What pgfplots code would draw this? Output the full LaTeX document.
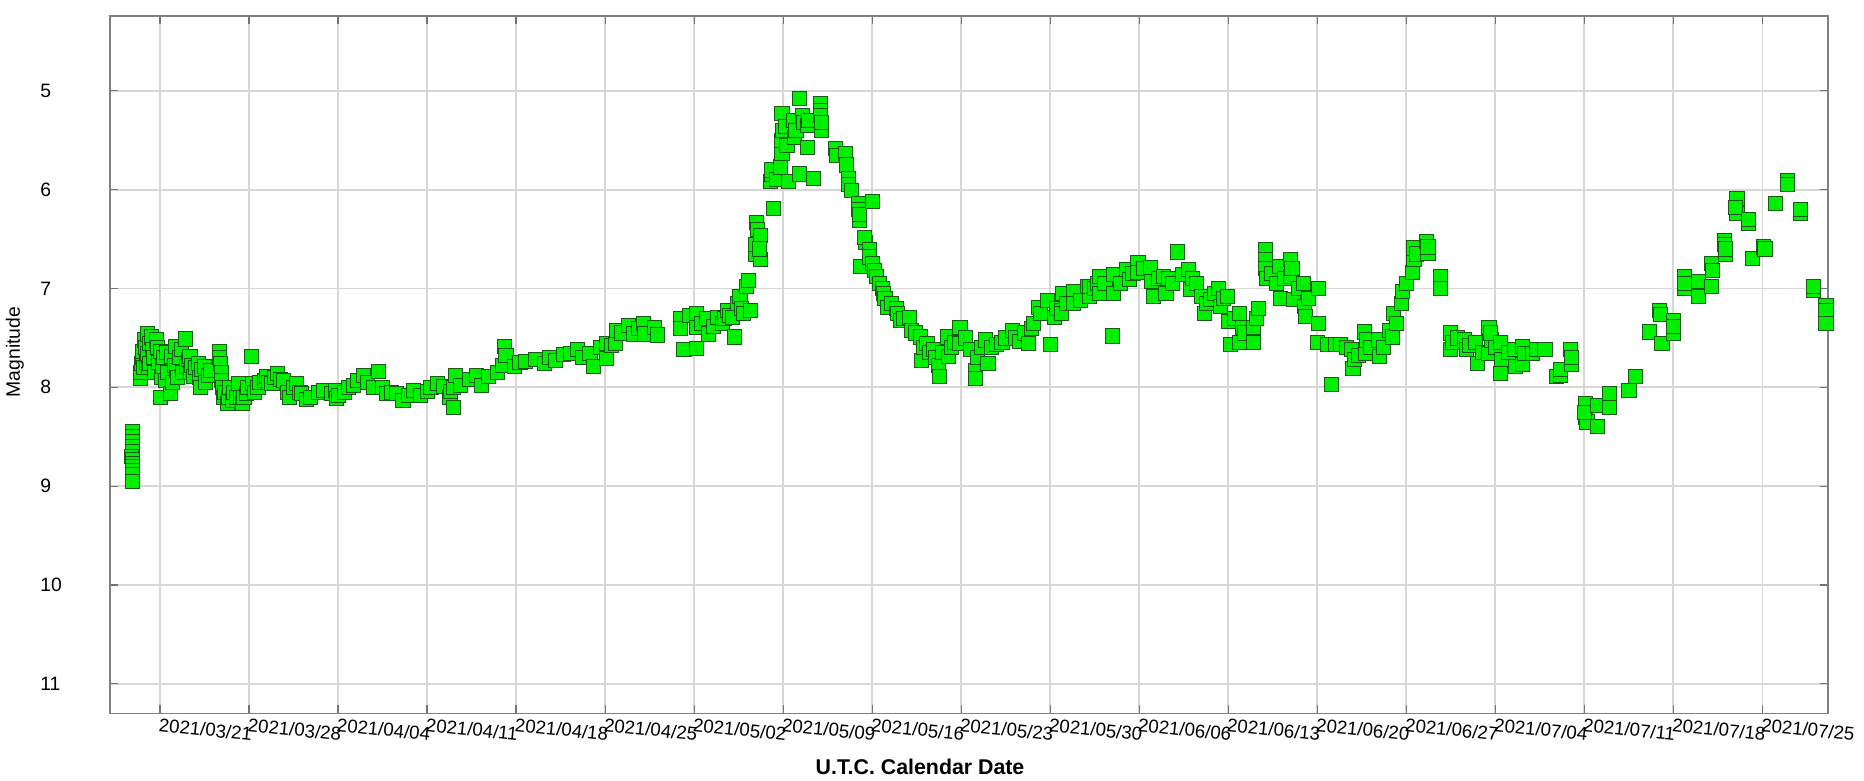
\documentclass[border=0pt]{standalone}
\usepackage{pgfplots}
\pgfplotsset{compat=1.18}
\usepackage{fontspec}
\setmainfont{Liberation Sans}
\definecolor{ptfill}{RGB}{0,240,0}
\definecolor{ptedge}{RGB}{25,90,25}
\definecolor{gridc}{RGB}{215,215,215}
\definecolor{framec}{RGB}{128,128,128}
\begin{document}
\begin{tikzpicture}
\begin{axis}[
  scale only axis, width=1288pt, height=523.2pt,
  xmin=-3.91, xmax=131.14, ymin=4.24, ymax=11.30, y dir=reverse,
  xtick={0,7,...,126},
  xticklabels={2021/03/21,2021/03/28,2021/04/04,2021/04/11,2021/04/18,2021/04/25,2021/05/02,2021/05/09,2021/05/16,2021/05/23,2021/05/30,2021/06/06,2021/06/13,2021/06/20,2021/06/27,2021/07/04,2021/07/11,2021/07/18,2021/07/25},
  ytick={5,6,...,11},
  /pgf/number format/assume math mode=true,
  grid=major, major grid style={gridc, line width=1.3pt},
  axis line style={framec, line width=1.3pt},
  tick align=inside, major tick length=6pt,
  tick style={black!55, line width=0.9pt},
  xticklabel style={font=\fontsize{14}{16}\selectfont, anchor=north west, rotate=-6, inner sep=0pt, yshift=-3pt},
  yticklabel style={font=\fontsize{14.5}{16}\selectfont, anchor=west, inner sep=0pt, xshift=-52.7pt},
  xlabel={U.T.C. Calendar Date},
  xlabel style={font=\fontsize{16}{18}\selectfont\bfseries, at={(axis description cs:0.4715,-0.087)}, anchor=base},
  ylabel={Magnitude},
  ylabel style={font=\fontsize{14.5}{16}\selectfont, at={(axis description cs:-0.0555,0.518)}, anchor=center},
  clip=false,
]
\addplot[only marks, mark=square*, mark size=5.3pt, mark options={fill=ptfill, draw=ptedge, line width=0.6pt}] coordinates {
(-2.2,8.45)(-2.2,8.5)(-2.2,8.55)(-2.2,8.6)(-2.2,8.65)(-2.25,8.7)(-2.2,8.73)(-2.2,8.77)(-2.2,8.8)(-2.2,8.84)(-2.2,8.88)(-2.2,8.95)
(-1.55,7.91)(-1.5,7.85)(-1.45,7.76)(-1.4,7.7)(-1.35,7.64)(-1.3,7.8)(-1.2,7.52)(-1.15,7.6)(-1.1,7.75)(-1.0,7.46)(-0.95,7.66)(-0.9,7.8)(-0.85,7.56)(-0.8,7.76)(-0.7,7.49)(-0.6,7.62)(-0.5,7.7)(-0.4,7.85)(-0.3,7.52)(-0.2,7.6)(-0.1,7.75)(0,7.64)(0.05,8.1)(0.1,7.9)(0.2,7.79)(0.3,7.7)(0.4,7.93)(0.5,7.65)(0.6,7.85)(0.8,8.06)(0.9,7.69)(1.0,7.95)(1.1,7.78)(1.2,7.59)(1.3,7.83)(1.4,7.9)(1.5,7.7)(1.7,7.62)(1.8,7.85)(2.0,7.51)(2.1,7.79)(2.2,7.72)(2.35,7.69)(2.4,7.85)(2.5,7.78)(2.6,7.89)(2.8,7.8)(3.0,7.76)(3.1,7.9)(3.15,8.0)(3.3,7.82)(3.5,7.79)(3.6,7.95)(3.8,7.88)(3.95,7.83)
(4.7,7.64)(4.7,7.7)(4.75,7.76)(4.8,7.85)(4.85,7.93)(4.9,8.0)(5.0,8.1)(5.1,8.05)(5.3,8.16)(5.4,8.1)(5.5,8.0)(5.7,8.13)(5.8,8.05)(6.0,8.1)(6.15,7.96)(6.3,8.1)(6.5,8.16)(6.6,8.1)(6.8,8.06)(6.9,8.0)(7.2,7.69)(7.3,7.96)(7.4,8.05)(7.7,8.0)(7.8,7.95)(8.2,7.93)(8.4,7.89)(8.5,7.95)(8.8,7.96)(9.0,7.9)(9.2,7.86)(9.5,7.92)(9.7,7.93)(10.0,8.05)(10.2,8.1)(10.5,8.0)(10.75,7.96)(11.0,8.05)(11.15,8.06)(11.5,8.12)(11.8,8.1)(12.5,8.05)(12.85,8.03)(13.5,8.06)(13.77,8.03)(13.9,8.11)(14.0,8.08)(14.5,8.05)(14.8,8.0)(15.2,7.98)(15.5,7.93)(16.0,7.88)(16.3,7.95)(16.8,8.0)(17.2,7.84)(17.5,8.0)(17.8,8.06)(18.2,8.05)(18.6,8.06)(19.1,8.13)(19.5,8.08)(19.9,8.03)(20.5,8.08)(21.0,8.04)(21.3,8.0)(21.8,7.96)(22.3,7.99)(22.8,8.1)(22.85,8.04)(23.05,8.2)(23.1,8.0)(23.2,7.88)(23.6,7.98)(24.3,7.92)(24.9,7.88)(25.3,7.98)(25.8,7.89)(26.5,7.85)(26.9,7.78)(27.1,7.59)(27.2,7.68)(27.9,7.79)(28.3,7.75)(28.7,7.74)(29.5,7.72)(30.2,7.76)(30.6,7.7)(31.1,7.73)(31.7,7.67)(32.3,7.66)(32.8,7.62)(33.2,7.7)(33.8,7.66)(34.1,7.79)(34.6,7.6)(35.1,7.56)(35.1,7.71)(35.5,7.58)(35.8,7.56)(35.9,7.42)(36.3,7.45)(36.8,7.37)(37.2,7.46)(37.6,7.4)(38.0,7.35)(38.1,7.46)(38.9,7.39)(39.1,7.47)
(40.9,7.3)(40.9,7.4)(41.2,7.62)(41.6,7.27)(42.2,7.61)(42.2,7.39)(42.2,7.25)(42.6,7.35)(43.0,7.3)(43.1,7.46)(43.5,7.38)(43.8,7.29)(44.2,7.35)(44.4,7.3)(44.6,7.22)(44.8,7.27)(45.0,7.29)(45.2,7.49)(45.4,7.15)(45.6,7.08)(45.7,7.2)(45.9,7.25)(46.1,6.98)(46.3,6.92)(46.4,7.22)(46.8,6.65)(46.8,6.55)(46.9,6.33)(47.0,6.4)(47.2,6.46)(47.2,6.71)(47.1,6.6)(48.0,5.92)(48.05,5.85)(48.1,5.8)(48.2,6.19)(48.5,5.9)(48.8,5.77)(48.9,5.63)(48.9,5.5)(48.9,5.23)(48.95,5.4)(49.2,5.36)(49.3,5.55)(49.4,5.92)(49.8,5.3)(49.9,5.47)(50.0,5.4)(50.3,5.08)(50.3,5.84)(50.5,5.25)(50.6,5.32)(50.9,5.35)(50.9,5.57)(51.0,5.3)(51.4,5.89)(51.9,5.13)(51.9,5.2)(51.9,5.25)(52.0,5.4)(52.0,5.32)
(53.1,5.58)(53.2,5.65)(53.9,5.63)(54.0,5.75)(54.1,5.89)(54.1,5.95)(54.4,6.01)(54.9,6.14)(54.9,6.2)(55.0,6.31)(55.0,6.25)(56.0,6.12)(55.5,6.53)(55.4,6.48)(55.1,6.78)(55.8,6.61)(55.8,6.68)(56.0,6.75)(56.2,6.82)(56.3,6.88)(56.6,6.95)(56.8,7.0)(56.9,7.05)(57.0,7.1)(57.2,7.19)(57.5,7.15)(57.9,7.2)(58.0,7.25)(58.2,7.32)(58.5,7.3)(58.9,7.29)(59.1,7.42)(59.4,7.45)(59.8,7.49)(59.9,7.73)(60.0,7.6)(60.3,7.56)(60.5,7.65)(60.8,7.62)(61.0,7.7)(61.2,7.78)(61.3,7.89)(61.5,7.65)(61.9,7.49)(62.0,7.69)(62.2,7.6)(62.5,7.55)(62.9,7.39)(62.9,7.56)(63.3,7.5)(63.7,7.62)(64.1,7.83)(64.1,7.91)(64.3,7.7)(64.6,7.6)(64.9,7.52)(65.1,7.76)(65.4,7.6)(65.8,7.57)(66.2,7.55)(66.5,7.5)(67.0,7.42)(67.3,7.5)(67.6,7.54)(68.0,7.45)(68.3,7.56)(68.5,7.4)(68.7,7.35)(69.1,7.19)(69.2,7.25)(69.8,7.12)(70.0,7.57)(70.3,7.29)(70.5,7.2)(70.9,7.22)(70.9,7.25)(71.0,7.05)(71.3,7.15)(71.8,7.05)(71.8,7.03)(71.8,7.15)(72.4,7.12)(72.9,6.98)(73.1,7.08)(73.1,6.98)(73.5,7.0)(73.7,6.95)(73.9,6.88)(73.9,7.05)(74.3,6.95)(74.9,7.48)(75.0,6.86)(75.0,7.05)(75.5,6.95)(76.0,6.81)(76.2,6.91)(76.5,6.85)(76.9,6.74)(76.9,6.84)(77.3,6.8)(77.9,6.79)(78.0,6.93)(78.1,7.08)(78.5,6.9)(78.9,6.88)(79.1,7.05)(79.3,6.9)(79.6,6.95)(80.0,6.63)(80.4,6.86)(80.9,6.81)(81.0,7.01)(81.2,6.9)(81.5,6.95)(81.9,7.08)(82.1,7.25)(82.3,7.15)(82.6,7.11)(82.9,7.05)(83.2,7.0)(83.4,7.18)(83.6,7.1)(83.9,7.08)(84.0,7.33)(84.2,7.57)(84.5,7.3)(84.9,7.25)(84.9,7.55)(85.1,7.39)(85.3,7.45)(86.0,7.55)(86.0,7.39)(86.2,7.3)(86.4,7.2)
(86.9,6.61)(86.9,6.71)(86.9,6.8)(87.0,6.9)(87.4,6.85)(87.8,6.95)(88.0,6.78)(88.1,7.1)(88.4,6.9)(88.9,6.71)(88.9,6.88)(89.0,6.8)(89.1,7.11)(89.5,7.0)(89.9,6.95)(90.0,7.18)(90.1,7.28)(90.3,7.1)(91.1,7.0)(91.1,7.35)(91.0,7.55)(91.8,7.57)(92.1,7.97)(92.4,7.57)(92.8,7.57)(93.3,7.6)(93.7,7.62)(93.8,7.81)(93.9,7.72)(94.2,7.68)(94.7,7.44)(94.8,7.66)(94.9,7.52)(95.2,7.6)(95.8,7.52)(95.9,7.69)(96.2,7.6)(96.7,7.42)(96.9,7.49)(97.0,7.25)(97.2,7.35)(97.6,7.15)(97.7,7.03)(98.0,6.95)(98.5,6.84)(98.6,6.71)(98.6,6.59)(98.8,6.65)(99.6,6.52)(99.7,6.64)(99.7,6.58)(100.7,6.88)(100.7,7.0)
(101.5,7.45)(101.5,7.62)(101.6,7.55)(102.0,7.5)(102.6,7.52)(102.7,7.62)(103.0,7.58)(103.4,7.55)(103.6,7.76)(104.0,7.65)(104.5,7.39)(104.5,7.66)(104.7,7.52)(104.6,7.45)(105.0,7.6)(105.4,7.55)(105.4,7.86)(105.5,7.72)(106.0,7.65)(106.5,7.62)(106.6,7.79)(107.1,7.59)(107.1,7.77)(107.3,7.66)(107.9,7.66)(108.2,7.62)(108.9,7.62)(109.8,7.89)(110.1,7.88)(110.1,7.82)(110.9,7.62)(111.0,7.77)(111.0,7.7)
(112.1,8.16)(112.1,8.3)(112.2,8.35)(112.0,8.25)(113.0,8.4)(113.0,8.18)(114.0,8.06)(114.0,8.2)(115.5,8.03)(116.0,7.89)(117.1,7.44)(117.9,7.22)(118.0,7.26)(118.1,7.56)(119.0,7.32)(119.0,7.45)(119.0,7.38)(119.9,6.88)(119.9,7.0)(119.9,6.95)(121.0,6.93)(121.0,7.08)(122.0,6.98)(122.0,6.75)(122.1,6.82)(123.0,6.51)(123.0,6.55)(123.1,6.65)(123.1,6.6)(124.0,6.09)(124.0,6.24)(123.9,6.18)(124.9,6.34)(124.9,6.3)(125.2,6.7)(126.1,6.58)(126.2,6.6)(127.0,6.14)(128.0,5.91)(128.0,5.95)(129.0,6.24)(129.0,6.2)(130.0,7.02)(130.0,6.98)(131.0,7.17)(131.0,7.22)(131.0,7.35)
};
\end{axis}
\pgfresetboundingbox
\path[use as bounding box] (-82.7pt,-50pt) rectangle (1315.2pt,535pt);
\end{tikzpicture}
\end{document}
